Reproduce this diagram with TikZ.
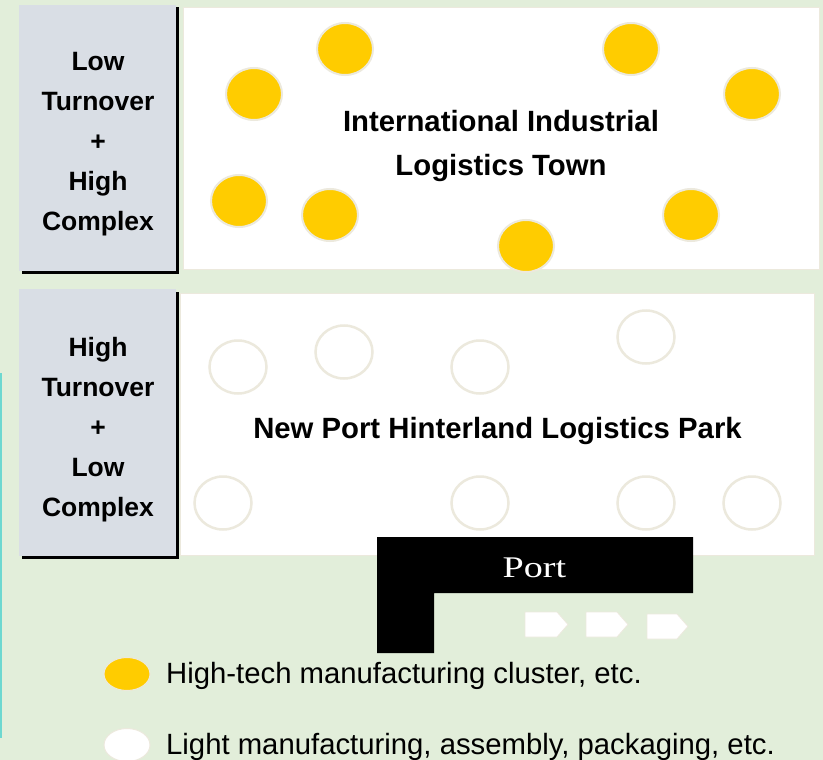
\documentclass[tikz,border=0pt]{standalone}
\usepackage{fontspec}
\setmainfont{Liberation Sans}
\newfontfamily\portfont{Liberation Serif}
\definecolor{bgg}{HTML}{E2EEDA}
\definecolor{greybox}{HTML}{D9DEE5}
\definecolor{gold}{HTML}{FFCC00}
\definecolor{rimc}{HTML}{ECE9DD}
\definecolor{cyanl}{HTML}{6ED8D0}
\tikzset{
  catbox/.style={fill=greybox, draw=none},
  catshadow/.style={fill=black, draw=none},
  zonebox/.style={fill=white, draw=rimc, line width=1pt},
  hitech/.style={fill=gold, draw=rimc, line width=2pt},
  light/.style={fill=white, draw=rimc, line width=2.5pt},
  catlabel/.style={align=center, font=\fontsize{26.5}{40}\selectfont\bfseries},
  zonelabel/.style={align=center, font=\fontsize{29.3}{44}\selectfont\bfseries},
  legendtext/.style={anchor=west, font=\fontsize{29.3}{34}\selectfont, inner sep=0pt},
  shipshape/.style={fill=white, draw=rimc, line width=0.8pt},
}
\begin{document}
\begin{tikzpicture}[x=1pt,y=-1pt]
\useasboundingbox (0,0) rectangle (823,760);
\fill[bgg] (0,0) rectangle (823,760);
% cyan edge line
\fill[cyanl] (0,373) rectangle (1.5,738);

% ---- top band ----
\fill[catshadow] (21.5,7.5) rectangle (179,273.5);
\fill[catbox] (19,5) rectangle (176,271);
\draw[zonebox] (183,8) rectangle (819,269);
\node[catlabel] (cat1) at (98,144) {Low\\Turnover\\+\\High\\Complex};
\node[zonelabel] (zone1) at (501,146) {International Industrial\\Logistics Town};

\foreach \n/\cx/\cy in {a/345/49, b/631/49, c/254/94, d/752/94, e/239/201, f/330/215, g/526/246, h/691/215}
  \draw[hitech] (\cx,\cy) ellipse [x radius=28, y radius=26];

% ---- middle band ----
\fill[catshadow] (21.5,291.5) rectangle (179,559);
\fill[catbox] (19,289) rectangle (176,556);
\draw[zonebox] (180,293) rectangle (814,555);
\node[catlabel] (cat2) at (98,430) {High\\Turnover\\+\\Low\\Complex};
\node[zonelabel] (zone2) at (497.5,431) {New Port Hinterland Logistics Park};

\foreach \cx/\cy in {238/367, 344/352, 480/367, 646/337, 223/503, 480/503, 646/503, 752/503}
  \draw[light] (\cx,\cy) ellipse [x radius=28.5, y radius=26.5];

% ---- port ----
\fill[black] (377,537) -- (693,537) -- (693,593) -- (434,593) -- (434,653) -- (377,653) -- cycle;
\node[text=white, inner sep=0pt, anchor=base] (port) at (534.5,577) {\portfont\fontsize{30}{34}\selectfont\scalebox{1.27}[1]{Port}};

\draw[shipshape] (525,612) -- (557,612) -- (568,624.5) -- (557,637) -- (525,637) -- cycle;
\draw[shipshape] (586,612) -- (617,612) -- (628,624.5) -- (617,637) -- (586,637) -- cycle;
\draw[shipshape] (647,614) -- (677,614) -- (688,626.5) -- (677,639) -- (647,639) -- cycle;

% ---- legend ----
\draw[fill=gold, draw=rimc, line width=1pt] (127,674) ellipse [x radius=23, y radius=16.5];
\node[legendtext] (leg1) at (166,676) {High-tech manufacturing cluster, etc.};
\draw[fill=white, draw=rimc, line width=1pt] (127,745) ellipse [x radius=23, y radius=16.5];
\node[legendtext] (leg2) at (166,747) {Light manufacturing, assembly, packaging, etc.};
\end{tikzpicture}
\end{document}
